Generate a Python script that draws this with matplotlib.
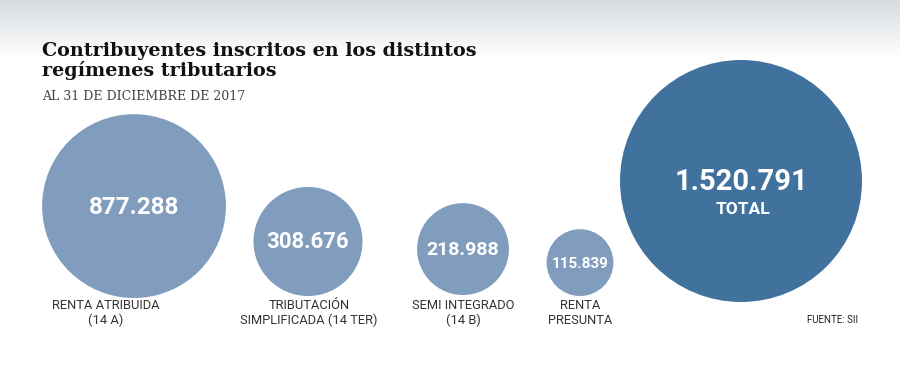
import numpy as np
import matplotlib
matplotlib.use("Agg")
import matplotlib.pyplot as plt
from matplotlib.patches import Circle
from matplotlib.colors import LinearSegmentedColormap

# data
categories = ["RENTA ATRIBUIDA\n(14 A)", "TRIBUTACIÓN\nSIMPLIFICADA (14 TER)",
              "SEMI INTEGRADO\n(14 B)", "RENTA\nPRESUNTA"]
values = [877288, 308676, 218988, 115839]
total = 1520791
value_labels = ["877.288", "308.676", "218.988", "115.839"]
total_label = "1.520.791"

# layout (pixel coords)
W, H = 900, 372
r_total = 121.0
cx = [134, 308, 463, 580]
bottoms = [298, 296, 295, 296]
label_x = [106, 309, 463, 580]
num_sizes = [17.5, 16, 14, 11]
tot_cx, tot_bottom = 741, 302

small_col = "#819dbe"
total_col = "#41729e"
text_col = "#333333"

fig = plt.figure(figsize=(9, 3.72), dpi=100)
ax = fig.add_axes([0, 0, 1, 1])
ax.set_xlim(0, W)
ax.set_ylim(H, 0)
ax.set_aspect("equal")
ax.axis("off")

# grey gradient at top
grad = np.linspace(0, 1, 100).reshape(-1, 1)
cmap = LinearSegmentedColormap.from_list("g", ["#d6dbe1", "#ffffff"])
ax.imshow(grad, cmap=cmap, extent=[0, W, 58, 0], aspect="auto", zorder=0)

for i, v in enumerate(values):
    r = r_total * np.sqrt(v / total)
    cy = bottoms[i] - r
    ax.add_patch(Circle((cx[i], cy), r, color=small_col, lw=0, zorder=2))
    ax.text(cx[i], cy + 1, value_labels[i], color="white", fontsize=num_sizes[i],
            fontweight="bold", family="Roboto", ha="center", va="center", zorder=3)
    ax.text(label_x[i], 299, categories[i], color=text_col, fontsize=9.3,
            family="Roboto", ha="center", va="top", linespacing=1.2, zorder=3)

cy_t = tot_bottom - r_total
ax.add_patch(Circle((tot_cx, cy_t), r_total, color=total_col, lw=0, zorder=2))
ax.text(tot_cx, cy_t + 1, total_label, color="white", fontsize=21,
        fontweight="bold", family="Roboto", ha="center", va="center", zorder=3)
ax.text(tot_cx + 2, cy_t + 28, "TOTAL", color="white", fontsize=12.5,
        fontweight="bold", family="Roboto", ha="center", va="center", zorder=3)

ax.text(858, 320, "FUENTE: SII", color="#222222", fontsize=7,
        family="Roboto", ha="right", va="center")

ax.text(42, 76, "Contribuyentes inscritos en los distintos\nregímenes tributarios",
        fontsize=13.8, fontweight="bold", family="DejaVu Serif", color="#111111",
        ha="left", va="baseline", linespacing=1.05)
ax.text(42, 97, "AL 31 DE DICIEMBRE DE 2017", fontsize=9,
        family="DejaVu Serif", color="#444444", ha="left", va="center")

fig.savefig("out.png", dpi=100)
